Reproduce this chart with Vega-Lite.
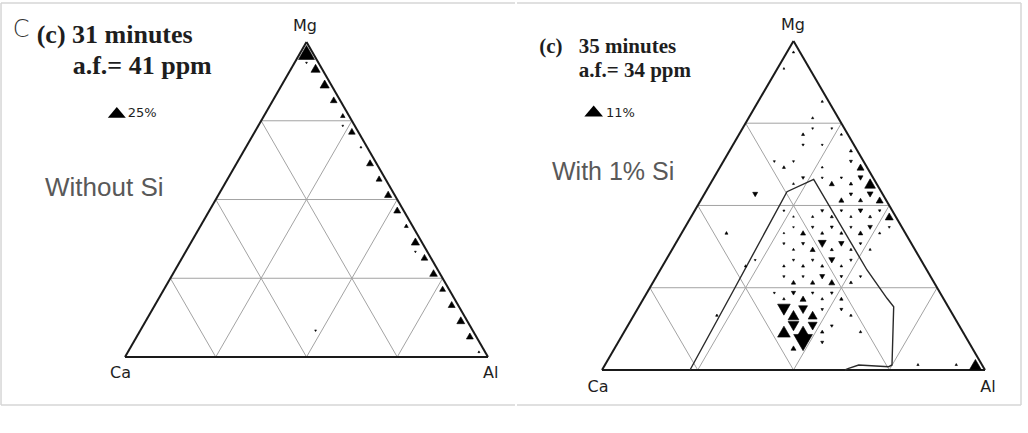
{
  "$schema": "https://vega.github.io/schema/vega-lite/v6.json",
  "padding": 0,
  "spacing": 0,
  "background": "white",
  "config": {"view": {"stroke": null}},
  "resolve": {"scale": {"x": "independent", "y": "independent", "size": "independent", "shape": "independent"}},
  "datasets": {
    "grid": [
      {"x": 12.5, "y": 21.65, "x2": 87.5, "y2": 21.65},
      {"x": 25, "y": 43.3, "x2": 75, "y2": 43.3},
      {"x": 37.5, "y": 64.95, "x2": 62.5, "y2": 64.95},
      {"x": 25, "y": 0, "x2": 62.5, "y2": 64.95},
      {"x": 50, "y": 0, "x2": 75, "y2": 43.3},
      {"x": 75, "y": 0, "x2": 87.5, "y2": 21.65},
      {"x": 25, "y": 0, "x2": 12.5, "y2": 21.65},
      {"x": 50, "y": 0, "x2": 25, "y2": 43.3},
      {"x": 75, "y": 0, "x2": 37.5, "y2": 64.95}
    ],
    "edges": [
      {"x": 0, "y": 0, "x2": 100, "y2": 0},
      {"x": 0, "y": 0, "x2": 50, "y2": 86.6},
      {"x": 100, "y": 0, "x2": 50, "y2": 86.6}
    ],
    "frame": [
      {"panel": "L", "x": -34.16, "y": 97.33, "x2": 107.44, "y2": 97.33},
      {"panel": "L", "x": -34.16, "y": 97.33, "x2": -34.16, "y2": -13.2},
      {"panel": "L", "x": -34.16, "y": -13.2, "x2": 107.44, "y2": -13.2},
      {"panel": "R", "x": -22.19, "y": 96.58, "x2": 109.4, "y2": 96.58},
      {"panel": "R", "x": 109.4, "y": 96.58, "x2": 109.4, "y2": -9.21},
      {"panel": "R", "x": -22.19, "y": -9.21, "x2": 109.4, "y2": -9.21}
    ],
    "poly": [
      {"ord": 1, "x": 22.98, "y": 0},
      {"ord": 2, "x": 34.39, "y": 21.05},
      {"ord": 3, "x": 48.3, "y": 46.92},
      {"ord": 4, "x": 55.27, "y": 50.18},
      {"ord": 5, "x": 69.19, "y": 26.32},
      {"ord": 6, "x": 74.41, "y": 18.87},
      {"ord": 7, "x": 76.16, "y": 16.66},
      {"ord": 8, "x": 75.72, "y": 1.32},
      {"ord": 9, "x": 74.86, "y": 0.87},
      {"ord": 10, "x": 67.02, "y": 1.32},
      {"ord": 11, "x": 64.41, "y": 0.45},
      {"ord": 12, "x": 63.45, "y": 0}
    ],
    "left_pts": [
      {"x": 50, "y": 83.71, "cell": "up", "pct": 25},
      {"x": 52.5, "y": 79.38, "cell": "up", "pct": 6.8},
      {"x": 50, "y": 80.83, "cell": "down", "pct": 0.15},
      {"x": 55, "y": 75.05, "cell": "up", "pct": 6.8},
      {"x": 57.5, "y": 70.72, "cell": "up", "pct": 3.2},
      {"x": 60, "y": 66.39, "cell": "up", "pct": 1.3},
      {"x": 60, "y": 63.51, "cell": "down", "pct": 0.15},
      {"x": 62.5, "y": 62.06, "cell": "up", "pct": 3.2},
      {"x": 65, "y": 57.73, "cell": "up", "pct": 0.2},
      {"x": 67.5, "y": 53.4, "cell": "up", "pct": 3.5},
      {"x": 70, "y": 49.07, "cell": "up", "pct": 2.5},
      {"x": 72.5, "y": 44.74, "cell": "up", "pct": 3.9},
      {"x": 75, "y": 40.41, "cell": "up", "pct": 3.5},
      {"x": 77.5, "y": 36.08, "cell": "up", "pct": 0.9},
      {"x": 80, "y": 31.75, "cell": "up", "pct": 5.2},
      {"x": 80, "y": 28.87, "cell": "down", "pct": 0.15},
      {"x": 82.5, "y": 27.42, "cell": "up", "pct": 3.2},
      {"x": 85, "y": 23.09, "cell": "up", "pct": 4.4},
      {"x": 87.5, "y": 18.76, "cell": "up", "pct": 2.4},
      {"x": 90, "y": 14.43, "cell": "up", "pct": 3.5},
      {"x": 92.5, "y": 10.1, "cell": "up", "pct": 4.8},
      {"x": 95, "y": 5.77, "cell": "up", "pct": 3.5},
      {"x": 97.5, "y": 1.44, "cell": "up", "pct": 0.2},
      {"x": 52.5, "y": 7.22, "cell": "down", "pct": 0.15}
    ],
    "right_pts": [
      {"x": 50, "y": 83.71, "cell": "up", "pct": 0.08},
      {"x": 47.5, "y": 79.38, "cell": "up", "pct": 0.05},
      {"x": 57.5, "y": 70.72, "cell": "up", "pct": 0.08},
      {"x": 55, "y": 66.39, "cell": "up", "pct": 0.08},
      {"x": 52.5, "y": 62.06, "cell": "up", "pct": 0.15},
      {"x": 55, "y": 63.51, "cell": "down", "pct": 0.05},
      {"x": 60, "y": 63.51, "cell": "down", "pct": 0.05},
      {"x": 62.5, "y": 62.06, "cell": "up", "pct": 0.08},
      {"x": 52.5, "y": 59.18, "cell": "down", "pct": 0.08},
      {"x": 57.5, "y": 59.18, "cell": "down", "pct": 0.05},
      {"x": 65, "y": 57.73, "cell": "up", "pct": 0.15},
      {"x": 45, "y": 54.85, "cell": "down", "pct": 0.06},
      {"x": 50, "y": 54.85, "cell": "down", "pct": 0.06},
      {"x": 65, "y": 54.85, "cell": "down", "pct": 0.15},
      {"x": 47.5, "y": 53.4, "cell": "up", "pct": 0.15},
      {"x": 57.5, "y": 53.4, "cell": "up", "pct": 0.06},
      {"x": 67.5, "y": 53.4, "cell": "up", "pct": 1.1},
      {"x": 52.5, "y": 50.52, "cell": "down", "pct": 0.15},
      {"x": 57.5, "y": 50.52, "cell": "down", "pct": 0.06},
      {"x": 62.5, "y": 50.52, "cell": "down", "pct": 0.08},
      {"x": 67.5, "y": 50.52, "cell": "down", "pct": 0.5},
      {"x": 50, "y": 49.07, "cell": "up", "pct": 0.06},
      {"x": 60, "y": 49.07, "cell": "up", "pct": 0.5},
      {"x": 65, "y": 49.07, "cell": "up", "pct": 0.2},
      {"x": 70, "y": 49.07, "cell": "up", "pct": 3.0},
      {"x": 40, "y": 46.19, "cell": "down", "pct": 0.5},
      {"x": 65, "y": 46.19, "cell": "down", "pct": 0.2},
      {"x": 70, "y": 46.19, "cell": "down", "pct": 0.75},
      {"x": 62.5, "y": 44.74, "cell": "up", "pct": 0.5},
      {"x": 67.5, "y": 44.74, "cell": "up", "pct": 0.3},
      {"x": 72.5, "y": 44.74, "cell": "up", "pct": 1.1},
      {"x": 47.5, "y": 41.86, "cell": "down", "pct": 0.06},
      {"x": 57.5, "y": 41.86, "cell": "down", "pct": 0.15},
      {"x": 62.5, "y": 41.86, "cell": "down", "pct": 0.1},
      {"x": 67.5, "y": 41.86, "cell": "down", "pct": 0.4},
      {"x": 72.5, "y": 41.86, "cell": "down", "pct": 0.1},
      {"x": 50, "y": 40.41, "cell": "up", "pct": 0.04},
      {"x": 55, "y": 40.41, "cell": "up", "pct": 0.08},
      {"x": 60, "y": 40.41, "cell": "up", "pct": 0.15},
      {"x": 65, "y": 40.41, "cell": "up", "pct": 0.08},
      {"x": 70, "y": 40.41, "cell": "up", "pct": 0.15},
      {"x": 75, "y": 40.41, "cell": "up", "pct": 1.5},
      {"x": 50, "y": 37.53, "cell": "down", "pct": 0.04},
      {"x": 55, "y": 37.53, "cell": "down", "pct": 0.1},
      {"x": 60, "y": 37.53, "cell": "down", "pct": 0.15},
      {"x": 65, "y": 37.53, "cell": "down", "pct": 0.08},
      {"x": 70, "y": 37.53, "cell": "down", "pct": 0.4},
      {"x": 75, "y": 37.53, "cell": "down", "pct": 0.06},
      {"x": 32.5, "y": 36.08, "cell": "up", "pct": 0.15},
      {"x": 47.5, "y": 36.08, "cell": "up", "pct": 0.04},
      {"x": 52.5, "y": 36.08, "cell": "up", "pct": 0.5},
      {"x": 57.5, "y": 36.08, "cell": "up", "pct": 0.15},
      {"x": 62.5, "y": 36.08, "cell": "up", "pct": 0.15},
      {"x": 67.5, "y": 36.08, "cell": "up", "pct": 0.4},
      {"x": 72.5, "y": 36.08, "cell": "up", "pct": 0.08},
      {"x": 47.5, "y": 33.2, "cell": "down", "pct": 0.08},
      {"x": 52.5, "y": 33.2, "cell": "down", "pct": 0.15},
      {"x": 57.5, "y": 33.2, "cell": "down", "pct": 1.5},
      {"x": 62.5, "y": 33.2, "cell": "down", "pct": 0.6},
      {"x": 67.5, "y": 33.2, "cell": "down", "pct": 0.1},
      {"x": 50, "y": 31.75, "cell": "up", "pct": 0.08},
      {"x": 55, "y": 31.75, "cell": "up", "pct": 0.5},
      {"x": 60, "y": 31.75, "cell": "up", "pct": 0.15},
      {"x": 65, "y": 31.75, "cell": "up", "pct": 0.1},
      {"x": 70, "y": 31.75, "cell": "up", "pct": 0.08},
      {"x": 40, "y": 28.87, "cell": "down", "pct": 0.05},
      {"x": 50, "y": 28.87, "cell": "down", "pct": 0.08},
      {"x": 55, "y": 28.87, "cell": "down", "pct": 0.1},
      {"x": 60, "y": 28.87, "cell": "down", "pct": 0.8},
      {"x": 65, "y": 28.87, "cell": "down", "pct": 0.1},
      {"x": 37.5, "y": 27.42, "cell": "up", "pct": 0.1},
      {"x": 47.5, "y": 27.42, "cell": "up", "pct": 0.1},
      {"x": 52.5, "y": 27.42, "cell": "up", "pct": 0.15},
      {"x": 57.5, "y": 27.42, "cell": "up", "pct": 0.15},
      {"x": 62.5, "y": 27.42, "cell": "up", "pct": 0.1},
      {"x": 47.5, "y": 24.54, "cell": "down", "pct": 0.08},
      {"x": 52.5, "y": 24.54, "cell": "down", "pct": 0.08},
      {"x": 57.5, "y": 24.54, "cell": "down", "pct": 0.5},
      {"x": 62.5, "y": 24.54, "cell": "down", "pct": 0.12},
      {"x": 67.5, "y": 24.54, "cell": "down", "pct": 0.08},
      {"x": 50, "y": 23.09, "cell": "up", "pct": 0.35},
      {"x": 55, "y": 23.09, "cell": "up", "pct": 0.35},
      {"x": 60, "y": 23.09, "cell": "up", "pct": 0.75},
      {"x": 65, "y": 23.09, "cell": "up", "pct": 0.15},
      {"x": 45, "y": 20.21, "cell": "down", "pct": 0.06},
      {"x": 50, "y": 20.21, "cell": "down", "pct": 0.35},
      {"x": 55, "y": 20.21, "cell": "down", "pct": 0.1},
      {"x": 60, "y": 20.21, "cell": "down", "pct": 0.12},
      {"x": 47.5, "y": 18.76, "cell": "up", "pct": 0.1},
      {"x": 52.5, "y": 18.76, "cell": "up", "pct": 0.75},
      {"x": 57.5, "y": 18.76, "cell": "up", "pct": 0.1},
      {"x": 62.5, "y": 18.76, "cell": "up", "pct": 0.2},
      {"x": 47.5, "y": 15.88, "cell": "down", "pct": 4.4},
      {"x": 52.5, "y": 15.88, "cell": "down", "pct": 1.95},
      {"x": 57.5, "y": 15.88, "cell": "down", "pct": 0.1},
      {"x": 62.5, "y": 15.88, "cell": "down", "pct": 0.15},
      {"x": 30, "y": 14.43, "cell": "up", "pct": 0.1},
      {"x": 50, "y": 14.43, "cell": "up", "pct": 3.0},
      {"x": 55, "y": 14.43, "cell": "up", "pct": 1.95},
      {"x": 65, "y": 14.43, "cell": "up", "pct": 0.1},
      {"x": 50, "y": 11.55, "cell": "down", "pct": 3.0},
      {"x": 55, "y": 11.55, "cell": "down", "pct": 1.95},
      {"x": 60, "y": 11.55, "cell": "down", "pct": 0.12},
      {"x": 47.5, "y": 10.1, "cell": "up", "pct": 4.4},
      {"x": 52.5, "y": 10.1, "cell": "up", "pct": 4.4},
      {"x": 57.5, "y": 10.1, "cell": "up", "pct": 0.2},
      {"x": 67.5, "y": 10.1, "cell": "up", "pct": 0.1},
      {"x": 52.5, "y": 7.22, "cell": "down", "pct": 11},
      {"x": 57.5, "y": 7.22, "cell": "down", "pct": 0.15},
      {"x": 50, "y": 5.77, "cell": "up", "pct": 0.5},
      {"x": 82.5, "y": 1.44, "cell": "up", "pct": 0.08},
      {"x": 92.5, "y": 1.44, "cell": "up", "pct": 0.08},
      {"x": 97.5, "y": 1.44, "cell": "up", "pct": 3.7}
    ],
    "labels": [
      {"panel": "L", "kind": "vertex", "x": 49.59, "y": 89.63, "text": "Mg"},
      {"panel": "L", "kind": "vertex", "x": -1.24, "y": -5.77, "text": "Ca"},
      {"panel": "L", "kind": "vertex", "x": 100.77, "y": -5.77, "text": "Al"},
      {"panel": "L", "kind": "title", "x": -24.33, "y": 86.25, "text": "(c) 31 minutes"},
      {"panel": "L", "kind": "title", "x": -14.41, "y": 77.81, "text": "a.f.= 41 ppm"},
      {"panel": "L", "kind": "tag", "x": -30.94, "y": 87.9, "text": "C"},
      {"panel": "L", "kind": "legend", "x": 0.74, "y": 65.91, "text": "25%"},
      {"panel": "L", "kind": "legendmark", "x": -2.26, "y": 67.28, "text": "25%"},
      {"panel": "L", "kind": "note", "x": -22.04, "y": 44.27, "text": "Without Si"},
      {"panel": "R", "kind": "vertex", "x": 49.87, "y": 89.6, "text": "Mg"},
      {"panel": "R", "kind": "vertex", "x": -1.04, "y": -5.71, "text": "Ca"},
      {"panel": "R", "kind": "vertex", "x": 100.78, "y": -5.71, "text": "Al"},
      {"panel": "R", "kind": "title", "x": -16.37, "y": 83.34, "text": "(c)"},
      {"panel": "R", "kind": "title", "x": -6.08, "y": 83.34, "text": "35 minutes"},
      {"panel": "R", "kind": "title", "x": -6.08, "y": 77.03, "text": "a.f.= 34 ppm"},
      {"panel": "R", "kind": "legend", "x": 1.04, "y": 66.58, "text": "11%"},
      {"panel": "R", "kind": "legendmark", "x": -2.17, "y": 68.16, "text": "11%"},
      {"panel": "R", "kind": "note", "x": -13.05, "y": 50.0, "text": "With 1% Si"}
    ]
  },
  "hconcat": [
    {
      "width": 515,
      "height": 433,
      "encoding": {
        "x": {"field": "x", "type": "quantitative", "axis": null, "scale": {"domain": [-34.44, 107.44], "nice": false, "zero": false}},
        "y": {"field": "y", "type": "quantitative", "axis": null, "scale": {"domain": [-20.9, 98.16], "nice": false, "zero": false}}
      },
      "layer": [
        {"data": {"name": "frame"}, "transform": [{"filter": "datum.panel == 'L'"}], "mark": {"type": "rule", "color": "#d6d6d6", "strokeWidth": 1.5}, "encoding": {"x2": {"field": "x2"}, "y2": {"field": "y2"}}},
        {"data": {"name": "grid"}, "mark": {"type": "rule", "color": "#a3a3a3", "strokeWidth": 1}, "encoding": {"x2": {"field": "x2"}, "y2": {"field": "y2"}}},
        {"data": {"name": "edges"}, "mark": {"type": "rule", "color": "#1a1a1a", "strokeWidth": 2}, "encoding": {"x2": {"field": "x2"}, "y2": {"field": "y2"}}},
        {"data": {"name": "left_pts"}, "mark": {"type": "point", "filled": true, "color": "black", "stroke": "black", "opacity": 1, "strokeWidth": 0.6},
         "encoding": {
           "size": {"field": "pct", "type": "quantitative", "legend": null, "scale": {"type": "pow", "exponent": 0.85, "domain": [0, 25], "range": [0, 256], "zero": true}},
           "shape": {"field": "cell", "type": "nominal", "legend": null, "scale": {"domain": ["up", "down"], "range": ["triangle-up", "triangle-down"]}}
         }},
        {"data": {"name": "labels"}, "transform": [{"filter": "datum.panel == 'L' && datum.kind == 'legendmark'"}], "mark": {"type": "point", "filled": true, "color": "black", "opacity": 1, "strokeWidth": 0, "shape": "M-1,0.6L1,0.6L0,-0.6Z", "size": 324}},
        {"data": {"name": "labels"}, "transform": [{"filter": "datum.panel == 'L' && datum.kind == 'vertex'"}], "mark": {"type": "text", "font": "DejaVu Sans", "fontSize": 16, "color": "#1e1e1e", "align": "center", "baseline": "alphabetic"}, "encoding": {"text": {"field": "text"}}},
        {"data": {"name": "labels"}, "transform": [{"filter": "datum.panel == 'L' && datum.kind == 'title'"}], "mark": {"type": "text", "font": "Liberation Serif", "fontWeight": "bold", "fontSize": 26, "color": "#1e1e1e", "align": "left", "baseline": "alphabetic"}, "encoding": {"text": {"field": "text"}}},
        {"data": {"name": "labels"}, "transform": [{"filter": "datum.panel == 'L' && datum.kind == 'tag'"}], "mark": {"type": "text", "font": "DejaVu Sans", "fontWeight": 200, "fontSize": 24, "color": "#333333", "align": "left", "baseline": "alphabetic"}, "encoding": {"text": {"field": "text"}}},
        {"data": {"name": "labels"}, "transform": [{"filter": "datum.panel == 'L' && datum.kind == 'legend'"}], "mark": {"type": "text", "font": "DejaVu Sans", "fontSize": 13, "color": "#1e1e1e", "align": "left", "baseline": "alphabetic"}, "encoding": {"text": {"field": "text"}}},
        {"data": {"name": "labels"}, "transform": [{"filter": "datum.panel == 'L' && datum.kind == 'note'"}], "mark": {"type": "text", "font": "Liberation Sans", "fontSize": 26, "color": "#595959", "align": "left", "baseline": "alphabetic"}, "encoding": {"text": {"field": "text"}}}
      ]
    },
    {
      "width": 513,
      "height": 433,
      "encoding": {
        "x": {"field": "x", "type": "quantitative", "axis": null, "scale": {"domain": [-22.19, 111.75], "nice": false, "zero": false}},
        "y": {"field": "y", "type": "quantitative", "axis": null, "scale": {"domain": [-16.58, 97.37], "nice": false, "zero": false}}
      },
      "layer": [
        {"data": {"name": "frame"}, "transform": [{"filter": "datum.panel == 'R'"}], "mark": {"type": "rule", "color": "#d6d6d6", "strokeWidth": 1.5}, "encoding": {"x2": {"field": "x2"}, "y2": {"field": "y2"}}},
        {"data": {"name": "grid"}, "mark": {"type": "rule", "color": "#a3a3a3", "strokeWidth": 1}, "encoding": {"x2": {"field": "x2"}, "y2": {"field": "y2"}}},
        {"data": {"name": "edges"}, "mark": {"type": "rule", "color": "#1a1a1a", "strokeWidth": 2}, "encoding": {"x2": {"field": "x2"}, "y2": {"field": "y2"}}},
        {"data": {"name": "poly"}, "mark": {"type": "line", "color": "#2a2a2a", "strokeWidth": 1.4}, "encoding": {"order": {"field": "ord", "type": "quantitative"}}},
        {"data": {"name": "right_pts"}, "mark": {"type": "point", "filled": true, "color": "black", "stroke": "black", "opacity": 1, "strokeWidth": 0.6},
         "encoding": {
           "size": {"field": "pct", "type": "quantitative", "legend": null, "scale": {"type": "pow", "exponent": 0.85, "domain": [0, 11], "range": [0, 350], "zero": true}},
           "shape": {"field": "cell", "type": "nominal", "legend": null, "scale": {"domain": ["up", "down"], "range": ["triangle-up", "triangle-down"]}}
         }},
        {"data": {"name": "labels"}, "transform": [{"filter": "datum.panel == 'R' && datum.kind == 'legendmark'"}], "mark": {"type": "point", "filled": true, "color": "black", "opacity": 1, "strokeWidth": 0, "shape": "M-1,0.6L1,0.6L0,-0.6Z", "size": 350}},
        {"data": {"name": "labels"}, "transform": [{"filter": "datum.panel == 'R' && datum.kind == 'vertex'"}], "mark": {"type": "text", "font": "DejaVu Sans", "fontSize": 16, "color": "#1e1e1e", "align": "center", "baseline": "alphabetic"}, "encoding": {"text": {"field": "text"}}},
        {"data": {"name": "labels"}, "transform": [{"filter": "datum.panel == 'R' && datum.kind == 'title'"}], "mark": {"type": "text", "font": "Liberation Serif", "fontWeight": "bold", "fontSize": 21, "color": "#1e1e1e", "align": "left", "baseline": "alphabetic"}, "encoding": {"text": {"field": "text"}}},
        {"data": {"name": "labels"}, "transform": [{"filter": "datum.panel == 'R' && datum.kind == 'legend'"}], "mark": {"type": "text", "font": "DejaVu Sans", "fontSize": 13, "color": "#1e1e1e", "align": "left", "baseline": "alphabetic"}, "encoding": {"text": {"field": "text"}}},
        {"data": {"name": "labels"}, "transform": [{"filter": "datum.panel == 'R' && datum.kind == 'note'"}], "mark": {"type": "text", "font": "Liberation Sans", "fontSize": 25, "color": "#595959", "align": "left", "baseline": "alphabetic"}, "encoding": {"text": {"field": "text"}}}
      ]
    }
  ]
}
